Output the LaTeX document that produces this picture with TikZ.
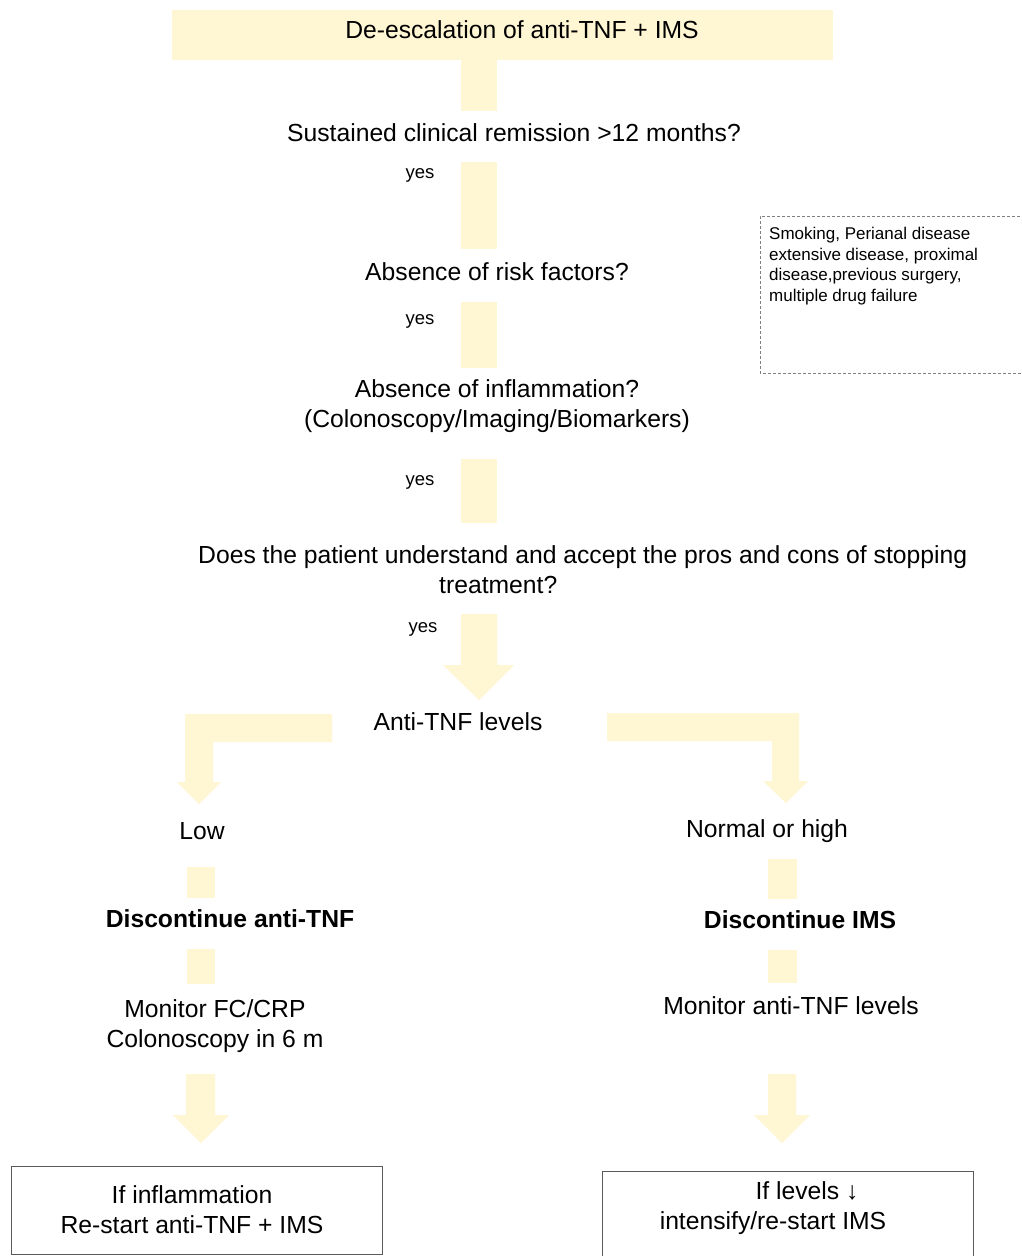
\documentclass[tikz,border=0pt]{standalone}
\usepackage{fontspec}
\setmainfont{Liberation Sans}
\definecolor{ylw}{RGB}{255,246,212}
\definecolor{dgray}{RGB}{90,90,90}
\begin{document}
\begin{tikzpicture}[x=1pt,y=-1pt,
  txt/.style={font=\fontsize{24.7}{30}\selectfont, inner sep=0pt, align=center},
  btxt/.style={txt, font=\fontsize{24.7}{30}\selectfont\bfseries},
  yestxt/.style={font=\fontsize{18.5}{22}\selectfont, inner sep=0pt},
  smalltxt/.style={font=\fontsize{17}{20.5}\selectfont, inner sep=0pt, align=left},
  blk/.style={fill=ylw, draw=none},
  outbox/.style={draw=dgray, line width=1pt, fill=none},
  dbox/.style={draw=gray, line width=1pt, dash pattern=on 3pt off 2pt}]
\useasboundingbox (0,0) rectangle (1022,1256);
\fill[white] (0,0) rectangle (1022,1256);

% top box
\node[blk, minimum width=661pt, minimum height=50pt, inner sep=0pt] (top) at (502.5,35) {};
\node[txt] (toptxt) at (522,30) {De-escalation of anti-TNF + IMS};

% yellow connectors (plain bars)
\fill[blk] (461,60) rectangle (497,111);
\fill[blk] (461,162) rectangle (497,249);
\fill[blk] (461,302) rectangle (497,368);
\fill[blk] (461,459) rectangle (497,523);

% question texts
\node[txt] (q1) at (514,133) {Sustained clinical remission >12 months?};
\node[yestxt] (y1) at (420,175) {yes};
\node[txt] (q2) at (497,272) {Absence of risk factors?};
\node[yestxt] (y2) at (420,321) {yes};
\node[txt] (q3) at (497,406) {Absence of inflammation?\\(Colonoscopy/Imaging/Biomarkers)};
\node[yestxt] (y3) at (420,482) {yes};
\node[txt, align=left, anchor=west] (q4) at (198,570) {Does the patient understand and accept the pros and cons of stopping\\\hspace*{241pt}treatment?};
\node[yestxt] (y4) at (423,629) {yes};

% arrow to levels
\fill[blk] (461,614) -- (497,614) -- (497,665) -- (514,665) -- (479,700) -- (443,665) -- (461,665) -- cycle;
\node[txt] (lev) at (458,722) {Anti-TNF levels};

% bent arrows
\fill[blk] (332,714) -- (185,714) -- (185,782) -- (177,782) -- (199,804) -- (221,782) -- (213,782) -- (213,742) -- (332,742) -- cycle;
\fill[blk] (607,713) -- (799,713) -- (799,781) -- (808,781) -- (786,803) -- (763,781) -- (772,781) -- (772,741) -- (607,741) -- cycle;

\node[txt] (low) at (202,831) {Low};
\node[txt] (high) at (767,831) {Normal or high};

% left branch
\fill[blk] (187,867) rectangle (215,898);
\node[btxt] (disc1) at (230,919) {Discontinue anti-TNF};
\fill[blk] (187,949) rectangle (215,984);
\node[txt] (mon1) at (215,1026) {Monitor FC/CRP\\Colonoscopy in 6 m};
\fill[blk] (186,1074) -- (215,1074) -- (215,1115) -- (229,1115) -- (201,1143) -- (173,1115) -- (186,1115) -- cycle;

% right branch
\fill[blk] (768,859) rectangle (797,899);
\node[btxt] (disc2) at (800,920) {Discontinue IMS};
\fill[blk] (768,950) rectangle (797,983);
\node[txt] (mon2) at (791,1006) {Monitor anti-TNF levels};
\fill[blk] (768,1074) -- (796,1074) -- (796,1115) -- (810,1115) -- (782,1143) -- (754,1115) -- (768,1115) -- cycle;

% bottom boxes
\draw[outbox] (11,1166) rectangle (382,1254);
\node[txt] (res1) at (192,1210) {If inflammation\\Re-start anti-TNF + IMS};
\draw[outbox] (602,1171) rectangle (973,1262);
\node[txt] (res2) at (773,1208) {\hspace*{68pt}If levels ↓\\intensify/re-start IMS};

% risk factor box
\draw[dbox] (1030,216) -- (760,216) -- (760,373) -- (1030,373);
\node[smalltxt, anchor=north west] (risk) at (769,227) {Smoking, Perianal disease\\extensive disease, proximal\\disease,previous surgery,\\multiple drug failure};
\end{tikzpicture}
\end{document}
